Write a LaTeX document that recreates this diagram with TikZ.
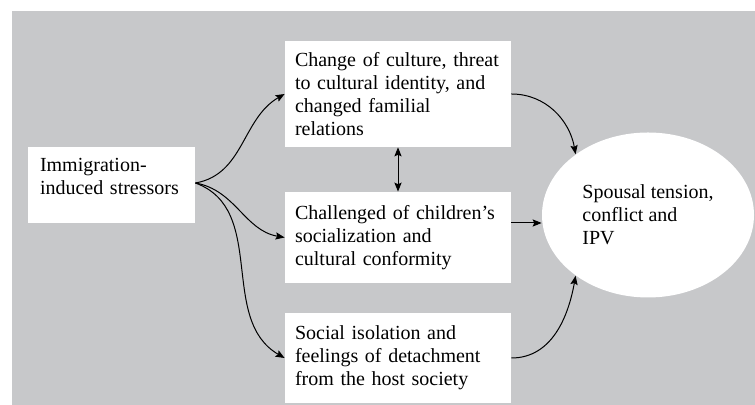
\documentclass[tikz,border=0pt]{standalone}
\usepackage{fontspec}
\setmainfont{Liberation Serif}
\usetikzlibrary{positioning, arrows.meta, shapes.geometric}
\definecolor{panel-gray}{RGB}{199,200,202}

\begin{document}
\begin{tikzpicture}[x=0.5pt, y=0.5pt, >={Stealth[length=4.5pt, width=3.6pt, inset=0.8pt]},
  every node/.style={font=\fontsize{10}{11.5}\selectfont},
  stressbox/.style={rectangle, fill=white, inner xsep=5pt, align=left, text width=103pt, minimum width=113pt},
  link/.style={->, line width=0.5pt}]
\useasboundingbox (0,0) rectangle (755,405);
\fill[panel-gray] (12,0) rectangle (755,394);

\node (imm) [rectangle, fill=white, inner xsep=6pt, align=left, text width=71.5pt, minimum width=83.5pt, minimum height=38pt, text depth=20pt] at (111.5,220) {Immigration-\\induced stressors};
\node (cult) [stressbox, minimum height=53pt] at (398,311) {Change of culture, threat\\to cultural identity, and\\changed familial\\relations};
\node (child) [stressbox, minimum height=45.5pt] at (398,167.5) {Challenged of children’s\\socialization and\\cultural conformity};
\node (isol) [stressbox, minimum height=45pt] at (398,47) {Social isolation and\\feelings of detachment\\from the host society};
\node (spouse) [ellipse, fill=white, inner sep=0pt, minimum width=106pt, minimum height=82.5pt, align=left] at (648,190) {Spousal tension,\\conflict and\\IPV};

\coordinate (fork) at ([yshift=1pt]imm.east);
\draw[link] (fork) to[out=10, in=210] (cult.west);
\draw[link] (fork) to[out=-10, in=170] (child.west);
\draw[link] (fork) to[out=-20, in=150] (isol.west);
\draw[<->, line width=0.5pt] (cult.south) -- (child.north);

\draw[link] (cult.east) to[out=0, in=100] (spouse.140);
\draw[link] ([yshift=7.25pt]child.east) coordinate (mid) -- (mid -| spouse.west);
\draw[link] (isol.east) to[out=0, in=-100] (spouse.220);
\end{tikzpicture}
\end{document}
